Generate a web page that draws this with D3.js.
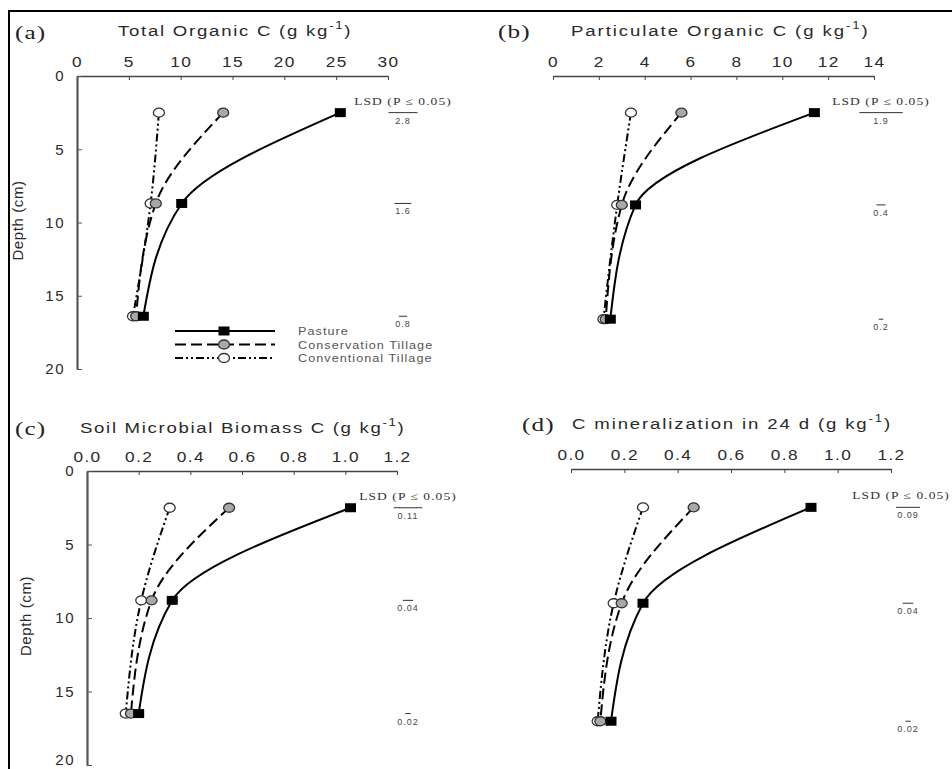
<!DOCTYPE html>
<html>
<head>
<meta charset="utf-8">
<script src="https://cdn.jsdelivr.net/npm/d3@7"></script>
<style>
  body { margin: 0; background: #fff; }
  svg { display: block; font-family: "Liberation Sans", Arial, sans-serif; }
</style>
</head>
<body>
<svg id="chart" width="952" height="769"></svg>
<script>
// ---- data ----
const seriesNames = ['Pasture', 'Conservation Tillage', 'Conventional Tillage'];

// sampling depth (cm) per panel
const depthA = [2.5, 8.7, 16.4];
const depthB = [2.5, 8.8, 16.6];
const depthC = [2.5, 8.8, 16.5];
const depthD = [2.6, 9.1, 17.1];

// (a) total organic C
const pastureA = [25.4, 10.1, 6.4];
const conservA = [14.1, 7.6, 5.7];
const conventA = [7.9, 7.1, 5.4];
// (b) particulate organic C
const pastureB = [11.4, 3.6, 2.5];
const conservB = [5.6, 3.0, 2.3];
const conventB = [3.4, 2.8, 2.2];
// (c) soil microbial biomass C
const pastureC = [1.02, 0.33, 0.20];
const conservC = [0.55, 0.25, 0.17];
const conventC = [0.32, 0.21, 0.15];
// (d) C mineralization in 24 d
const pastureD = [0.90, 0.27, 0.15];
const conservD = [0.46, 0.19, 0.11];
const conventD = [0.27, 0.16, 0.10];

// LSD (P <= 0.05) at each depth
const lsdA = [2.8, 1.6, 0.8];
const lsdB = [1.9, 0.4, 0.2];
const lsdC = [0.11, 0.04, 0.02];
const lsdD = [0.09, 0.04, 0.02];
const lsdLabelsA = ['2.8', '1.6', '0.8'];
const lsdLabelsB = ['1.9', '0.4', '0.2'];
const lsdLabelsC = ['0.11', '0.04', '0.02'];
const lsdLabelsD = ['0.09', '0.04', '0.02'];

const xTicksA = [0, 5, 10, 15, 20, 25, 30];
const xTicksB = [0, 2, 4, 6, 8, 10, 12, 14];
const xTicksCD = [0, 0.2, 0.4, 0.6, 0.8, 1.0, 1.2];
const depthTicks = [0, 5, 10, 15, 20];

// ---- layout ----
let svg = d3.select('#chart');

// outer frame (cut off at right and bottom like the source)
svg.append('rect')
  .attr('x', 9).attr('y', 11)
  .attr('width', 1000).attr('height', 1000)
  .attr('fill', 'none').attr('stroke', '#000').attr('stroke-width', 2);

let panels = [
  { letter: '(a)', lx: 15, ly: 39, title: 'Total Organic C (g kg', tx: 118, ty: 36, tls: 1.45,
    xr: [77, 388], yr: [76, 369], xmax: 30, ticks: xTicksA, fmt: d3.format('d'), yAxis: true, depthX: 23,
    depth: depthA, vals: [pastureA, conservA, conventA], lsd: lsdA, lsdLab: lsdLabelsA, lsdX: 403, legend: true },
  { letter: '(b)', lx: 498, ly: 38, title: 'Particulate Organic C (g kg', tx: 571, ty: 36, tls: 1.6,
    xr: [553, 874], yr: [76, 369], xmax: 14, ticks: xTicksB, fmt: d3.format('d'), yAxis: false,
    depth: depthB, vals: [pastureB, conservB, conventB], lsd: lsdB, lsdLab: lsdLabelsB, lsdX: 881 },
  { letter: '(c)', lx: 15, ly: 435, title: 'Soil Microbial Biomass C (g kg', tx: 80, ty: 433, tls: 1.4,
    xr: [87, 397], yr: [471, 765], xmax: 1.2, ticks: xTicksCD, fmt: d3.format('.1f'), yAxis: true, depthX: 31,
    depth: depthC, vals: [pastureC, conservC, conventC], lsd: lsdC, lsdLab: lsdLabelsC, lsdX: 408 },
  { letter: '(d)', lx: 522, ly: 431, title: 'C mineralization in 24 d (g kg', tx: 572, ty: 429, tls: 1.55,
    xr: [571, 891], yr: [469, 764], xmax: 1.2, ticks: xTicksCD, fmt: d3.format('.1f'), yAxis: false,
    depth: depthD, vals: [pastureD, conservD, conventD], lsd: lsdD, lsdLab: lsdLabelsD, lsdX: 908 }
];

let dashes = [null, '11,5', '8,3,2,3,2,3'];
let fills = ['#000', '#a8a8a8', '#fff'];
let serif = '"Liberation Serif", "DejaVu Serif", serif';
let stretch = 1.2; // the source figure is widened horizontally

panels.forEach(function (p) {
  let x = d3.scaleLinear().domain([0, p.xmax]).range(p.xr);
  let y = d3.scaleLinear().domain([0, 20]).range(p.yr);
  let g = svg.append('g');

  // panel letter + title
  g.append('text')
    .attr('transform', 'translate(' + p.lx + ',' + p.ly + ') scale(1.4,1)')
    .attr('font-family', serif).attr('font-size', 18).attr('letter-spacing', 0.8)
    .attr('fill', '#222').text(p.letter);
  let t = g.append('text')
    .attr('transform', 'translate(' + p.tx + ',' + p.ty + ') scale(' + stretch + ',1)')
    .attr('font-size', 15.5).attr('letter-spacing', p.tls).attr('fill', '#2a2a2a');
  t.append('tspan').text(p.title);
  t.append('tspan').attr('font-size', 11).attr('dy', -7).text('-1');
  t.append('tspan').attr('dy', 7).text(')');

  // top x axis
  let xa = g.append('g').attr('transform', 'translate(0,' + p.yr[0] + ')')
    .call(d3.axisTop(x).tickValues(p.ticks).tickFormat(p.fmt).tickSizeInner(-4).tickSizeOuter(0).tickPadding(9));
  xa.select('.domain').attr('stroke', '#444').attr('stroke-width', 1.6);
  xa.selectAll('.tick line').attr('stroke', '#444');
  xa.selectAll('text').attr('font-size', 15).attr('letter-spacing', 1.2)
    .attr('transform', 'scale(1.15,1)').attr('fill', '#2a2a2a');

  if (p.yAxis) {
    let ya = g.append('g').attr('transform', 'translate(' + p.xr[0] + ',0)')
      .call(d3.axisLeft(y).tickValues(depthTicks).tickSizeInner(-5).tickSizeOuter(0).tickPadding(12));
    ya.select('.domain').attr('stroke', '#555').attr('stroke-width', 2.2);
    ya.selectAll('.tick line').attr('stroke', '#555');
    ya.selectAll('text').attr('font-size', 15).attr('letter-spacing', 1.5).attr('fill', '#2a2a2a')
      .filter(d => y(d) > 760).attr('dy', '-0.05em');
    g.append('text')
      .attr('transform', 'translate(' + p.depthX + ',' + (y(10) - 2) + ') rotate(-90)')
      .attr('text-anchor', 'middle').attr('font-size', 15).attr('letter-spacing', 0.6)
      .attr('fill', '#2a2a2a').text('Depth (cm)');
  }

  // series lines
  let line = d3.line()
    .x(d => x(d[0])).y(d => y(d[1]))
    .curve(d3.curveMonotoneY);
  [2, 1, 0].forEach(function (s) {
    let pts = p.vals[s].map((v, i) => [v, p.depth[i]]);
    g.append('path').attr('d', line(pts))
      .attr('fill', 'none').attr('stroke', '#000').attr('stroke-width', 2)
      .attr('stroke-dasharray', dashes[s]);
  });
  // markers
  [2, 1, 0].forEach(function (s) {
    p.vals[s].forEach(function (v, i) {
      drawMarker(g, s, x(v), y(p.depth[i]));
    });
  });

  // LSD bars
  p.lsd.forEach(function (l, i) {
    let cy = y(p.depth[i]);
    let half = (x(l) - x(0)) / 2;
    if (i === 0) {
      let lt = g.append('text')
        .attr('text-anchor', 'middle')
        .attr('font-family', serif).attr('font-size', 10).attr('letter-spacing', 0.8)
        .attr('fill', '#333').text('LSD (P \u2264 0.05)');
      // keep the label inside the picture
      let w = lt.node().getComputedTextLength() * 1.35;
      let cx = Math.min(p.lsdX, 950 - w / 2);
      lt.attr('transform', 'translate(' + cx + ',' + (cy - 8) + ') scale(1.35,1)');
    }
    g.append('line').attr('x1', p.lsdX - half).attr('x2', p.lsdX + half).attr('y1', cy).attr('y2', cy)
      .attr('stroke', '#333').attr('stroke-width', 1);
    g.append('text').attr('x', p.lsdX).attr('y', cy + 11)
      .attr('text-anchor', 'middle').attr('font-size', 9).attr('letter-spacing', 1)
      .attr('fill', '#444').text(p.lsdLab[i]);
  });

  if (p.legend) {
    let lg = g.append('g');
    seriesNames.forEach(function (name, s) {
      let ly = 331 + s * 13.5;
      lg.append('line').attr('x1', 175).attr('x2', 275).attr('y1', ly).attr('y2', ly)
        .attr('stroke', '#000').attr('stroke-width', 2).attr('stroke-dasharray', dashes[s]);
      drawMarker(lg, s, 224, ly);
      lg.append('text').attr('transform', 'translate(298,' + (ly + 4) + ') scale(1.15,1)')
        .attr('font-size', 11).attr('letter-spacing', 0.9).attr('fill', '#555').text(name);
    });
  }
});

function drawMarker(g, s, cx, cy) {
  if (s === 0) {
    g.append('rect').attr('x', cx - 5.5).attr('y', cy - 4.5)
      .attr('width', 11).attr('height', 9).attr('fill', '#000');
  } else {
    g.append('ellipse').attr('cx', cx).attr('cy', cy).attr('rx', 5.5).attr('ry', 4.5)
      .attr('fill', fills[s]).attr('stroke', '#333').attr('stroke-width', 1.3);
  }
}
</script>
</body>
</html>
